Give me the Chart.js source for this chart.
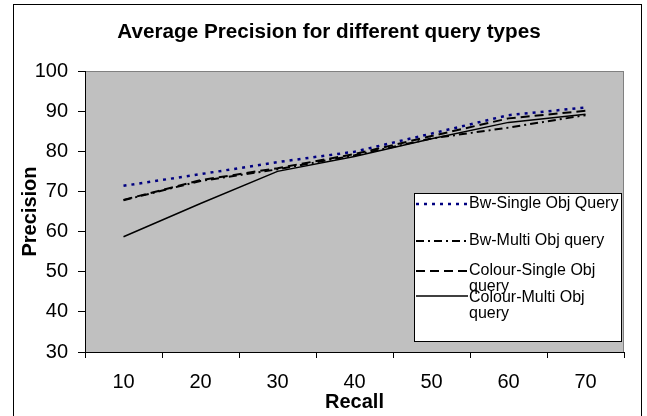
<!DOCTYPE html>
<html>
<head>
<meta charset="utf-8">
<title>Average Precision for different query types</title>
<script src="https://cdn.jsdelivr.net/npm/chart.js@4.4.1/dist/chart.umd.min.js"></script>
<style>
  html, body { margin: 0; padding: 0; background: #fff; }
  #wrap { width: 647px; height: 416px; }
</style>
</head>
<body>
<div id="wrap"><canvas id="precision-chart" width="647" height="416"></canvas></div>
<script>
const recallLabels = ['10', '20', '30', '40', '50', '60', '70'];
const bwSingle = [71.4, 74.3, 77.3, 79.9, 84.4, 89.0, 90.9];
const bwMulti = [67.8, 72.6, 75.5, 79.0, 83.2, 85.9, 89.0];
const colourSingle = [67.9, 72.8, 75.8, 79.3, 83.8, 88.2, 90.1];
const colourMulti = [58.7, 67.0, 75.0, 78.7, 83.1, 87.2, 89.2];
const seriesNames = ['Bw-Single Obj Query', 'Bw-Multi Obj query', 'Colour-Single Obj query', 'Colour-Multi Obj query'];
const precisionTicks = [30, 40, 50, 60, 70, 80, 90, 100];

const FONT = '"Liberation Sans", Arial, sans-serif';

// frame, title, grey plot area
const backdrop = {
  id: 'backdrop',
  beforeDraw(chart) {
    const { ctx, chartArea: a } = chart;
    ctx.save();
    ctx.fillStyle = '#fff';
    ctx.fillRect(0, 0, chart.width, chart.height);
    ctx.strokeStyle = '#000';
    ctx.lineWidth = 1;
    ctx.strokeRect(13.5, 4.5, 628, 420);

    ctx.fillStyle = '#c0c0c0';
    ctx.fillRect(a.left, a.top, a.right - a.left, a.bottom - a.top);
    ctx.strokeStyle = '#808080';
    ctx.strokeRect(a.left + 0.5, a.top + 0.5, a.right - a.left - 1, a.bottom - a.top);

    ctx.fillStyle = '#000';
    ctx.font = 'bold 20.7px ' + FONT;
    ctx.textAlign = 'center';
    ctx.textBaseline = 'middle';
    ctx.fillText('Average Precision for different query types', 329, 32);
    ctx.restore();
  }
};

// legend box inside the plot, like the original
const legendBox = {
  id: 'legendBox',
  afterDraw(chart) {
    const { ctx } = chart;
    const box = { x: 414, y: 193, w: 207, h: 148 };
    const rows = [
      { lineY: 204, text: ['Bw-Single Obj Query'], textY: 204 },
      { lineY: 241, text: ['Bw-Multi Obj query'], textY: 241 },
      { lineY: 271, text: ['Colour-Single Obj', 'query'], textY: 271 },
      { lineY: 296, text: ['Colour-Multi Obj', 'query'], textY: 298 }
    ];
    ctx.save();
    ctx.fillStyle = '#fff';
    ctx.fillRect(box.x, box.y, box.w, box.h);
    ctx.strokeStyle = '#000';
    ctx.lineWidth = 1;
    ctx.strokeRect(box.x + 0.5, box.y + 0.5, box.w, box.h);
    ctx.beginPath();
    ctx.rect(box.x, box.y, box.w, box.h);
    ctx.clip();

    chart.data.datasets.forEach((ds, i) => {
      const r = rows[i];
      ctx.strokeStyle = ds.borderColor;
      ctx.lineWidth = ds.borderWidth;
      ctx.setLineDash(ds.borderDash || []);
      ctx.beginPath();
      ctx.moveTo(416, r.lineY);
      ctx.lineTo(468, r.lineY);
      ctx.stroke();

      ctx.setLineDash([]);
      ctx.fillStyle = '#000';
      ctx.font = '16px ' + FONT;
      ctx.textAlign = 'left';
      ctx.textBaseline = 'middle';
      r.text.forEach((t, j) => ctx.fillText(t, 469, r.textY + j * 16));
    });
    ctx.restore();
  }
};

new Chart(document.getElementById('precision-chart').getContext('2d'), {
  type: 'line',
  data: {
    labels: recallLabels,
    datasets: [
      { label: seriesNames[0], data: bwSingle, borderColor: '#000080', borderWidth: 2.5, borderDash: [3, 5] },
      { label: seriesNames[1], data: bwMulti, borderColor: '#000', borderWidth: 2, borderDash: [8, 4, 2, 4] },
      { label: seriesNames[2], data: colourSingle, borderColor: '#000', borderWidth: 2, borderDash: [9, 5] },
      { label: seriesNames[3], data: colourMulti, borderColor: '#000', borderWidth: 1.5 }
    ]
  },
  options: {
    responsive: false,
    animation: false,
    layout: { padding: { top: 71, right: 23, bottom: 0, left: 0 } },
    elements: {
      point: { radius: 0 },
      line: { tension: 0, fill: false, borderCapStyle: 'butt' }
    },
    scales: {
      x: {
        offset: true,
        grid: { offset: true, drawOnChartArea: false, color: '#000', tickLength: 6 },
        border: { color: '#000' },
        ticks: { color: '#000', padding: 12, font: { family: FONT, size: 20 } },
        title: { display: true, text: 'Recall', color: '#000', padding: { top: 0, bottom: 2 }, font: { family: FONT, size: 20, weight: 'bold' } },
        afterFit: (scale) => { scale.height = 64; }
      },
      y: {
        min: 30,
        max: 100,
        afterBuildTicks: (scale) => { scale.ticks = precisionTicks.map(v => ({ value: v })); },
        grid: { drawOnChartArea: false, color: '#000', tickLength: 7 },
        border: { color: '#000' },
        ticks: { color: '#000', padding: 10, font: { family: FONT, size: 20 } },
        title: { display: true, text: 'Precision', color: '#000', padding: { top: 18, bottom: 0 }, font: { family: FONT, size: 20, weight: 'bold' } },
        afterFit: (scale) => { scale.width = 85; }
      }
    },
    plugins: {
      legend: { display: false },
      tooltip: { enabled: false }
    }
  },
  plugins: [backdrop, legendBox]
});
</script>
</body>
</html>
